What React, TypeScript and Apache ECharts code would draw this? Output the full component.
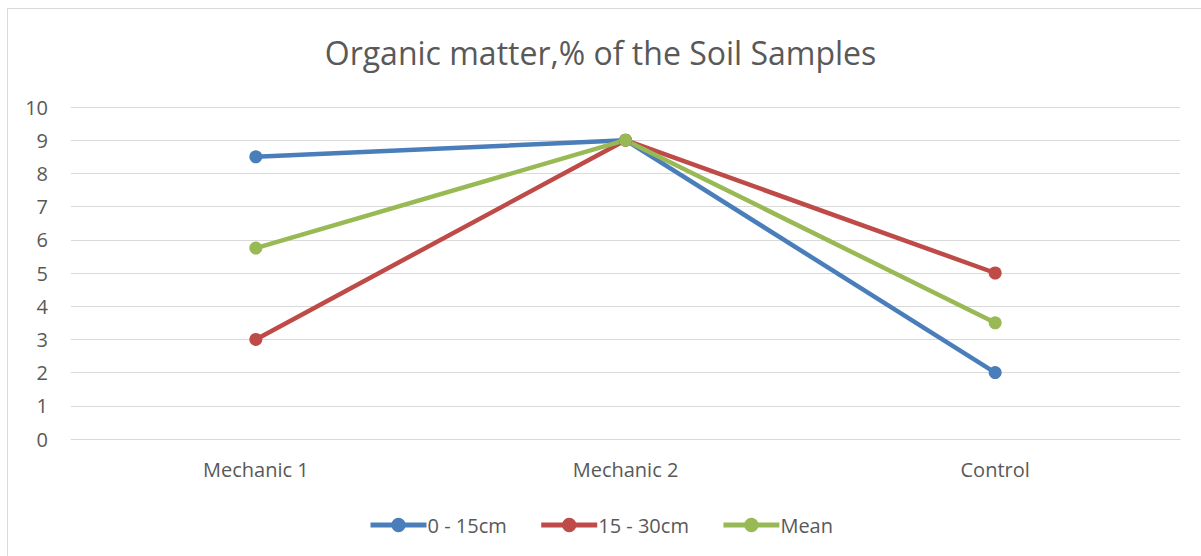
import React, { useEffect, useRef } from "react";
import * as echarts from "echarts";

const categories = ["Mechanic 1", "Mechanic 2", "Control"];
const depth0to15 = [8.5, 9, 2];
const depth15to30 = [3, 9, 5];
const meanValues = [5.75, 9, 3.5];
const yTicks = { min: 0, max: 10, interval: 1 };

export default function App() {
  const ref = useRef<HTMLDivElement>(null);
  useEffect(() => {
    const chart = echarts.init(ref.current!, null, { renderer: "svg" });
    const font = "'Open Sans', 'Noto Sans', sans-serif";
    const mk = (name: string, data: number[], color: string) => ({
      name,
      type: "line",
      data,
      symbol: "circle",
      symbolSize: 13,
      lineStyle: { width: 4.5, color },
      itemStyle: { color },
      z: 3,
    });
    chart.setOption({
      animation: false,
      backgroundColor: "#ffffff",
      textStyle: { fontFamily: font },
      title: {
        text: "Organic matter,% of the Soil Samples",
        left: "center",
        top: 31,
        textStyle: { fontSize: 32, fontWeight: "normal", color: "#595959", fontFamily: font },
      },
      graphic: [
        {
          type: "rect",
          shape: { x: 7.5, y: 8.5, width: 1200, height: 560 },
          style: { fill: "none", stroke: "#d9d9d9", lineWidth: 1 },
          silent: true,
        },
      ],
      grid: { left: 71, right: 21, top: 107, bottom: 117, containLabel: false },
      xAxis: {
        type: "category",
        data: categories,
        boundaryGap: true,
        axisLine: { show: true, lineStyle: { color: "#d9d9d9", width: 1 } },
        axisTick: { show: false },
        axisLabel: { color: "#595959", fontSize: 20, margin: 20, fontFamily: font },
      },
      yAxis: {
        type: "value",
        min: yTicks.min,
        max: yTicks.max,
        interval: yTicks.interval,
        axisLine: { show: false },
        axisTick: { show: false },
        splitLine: { lineStyle: { color: "#d9d9d9", width: 1 } },
        axisLabel: { color: "#595959", fontSize: 20, margin: 23, fontFamily: font },
      },
      legend: {
        bottom: 16,
        left: "center",
        itemWidth: 56,
        itemHeight: 18,
        itemGap: 32,
        lineStyle: { width: 5 },
        textStyle: { color: "#595959", fontSize: 20, fontFamily: font, padding: [0, 0, 0, -4] },
        data: ["0 - 15cm", "15 - 30cm", "Mean"],
      },
      series: [
        mk("0 - 15cm", depth0to15, "#4a7ebb"),
        mk("15 - 30cm", depth15to30, "#be4b48"),
        mk("Mean", meanValues, "#98b954"),
      ],
    });
    return () => chart.dispose();
  }, []);
  return (
    <div
      ref={ref}
      style={{ position: "fixed", left: 0, top: 0, width: 1201, height: 556 }}
    />
  );
}
